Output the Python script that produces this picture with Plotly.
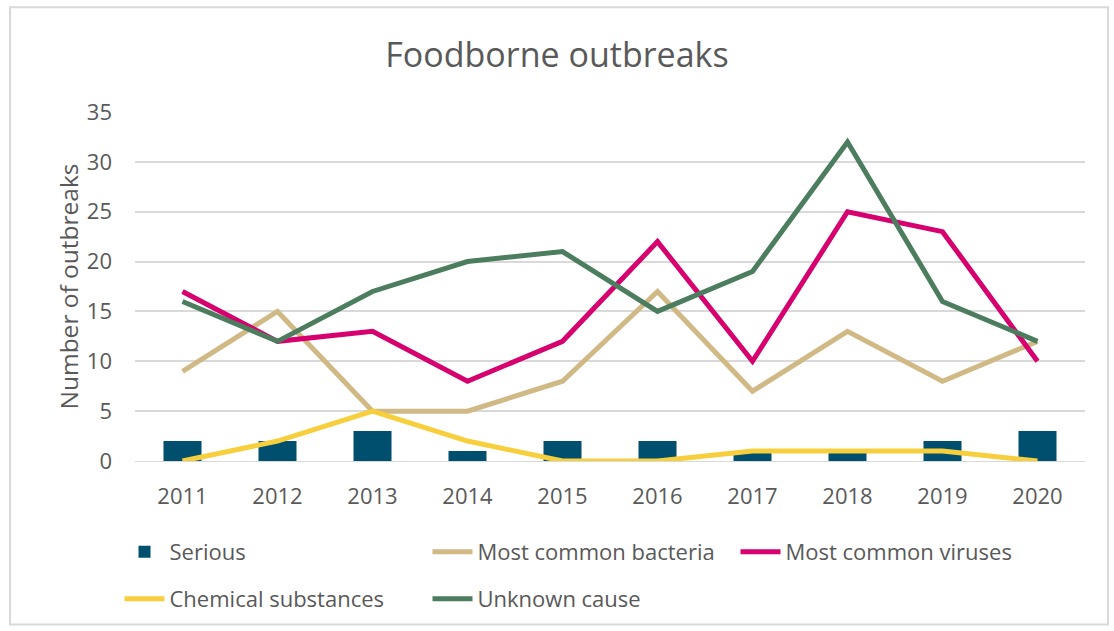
import plotly.graph_objects as go

years = ["2011", "2012", "2013", "2014", "2015", "2016", "2017", "2018", "2019", "2020"]
serious = [2, 2, 3, 1, 2, 2, 1, 1, 2, 3]
bacteria = [9, 15, 5, 5, 8, 17, 7, 13, 8, 12]
viruses = [17, 12, 13, 8, 12, 22, 10, 25, 23, 10]
chemical = [0, 2, 5, 2, 0, 0, 1, 1, 1, 0]
unknown = [16, 12, 17, 20, 21, 15, 19, 32, 16, 12]

FONT = "Open Sans, DejaVu Sans, sans-serif"
GRAY = "#595959"
LW = 5

fig = go.Figure()
fig.add_trace(go.Bar(x=years, y=serious, name="Serious", marker_color="#004F6E",
                     width=0.4, marker_line_width=0, legend="legend"))
fig.add_trace(go.Scatter(x=years, y=bacteria, name="Most common bacteria", mode="lines",
                         line=dict(color="#D1B986", width=LW), legend="legend"))
fig.add_trace(go.Scatter(x=years, y=viruses, name="Most common viruses", mode="lines",
                         line=dict(color="#D6006F", width=LW), legend="legend"))
fig.add_trace(go.Scatter(x=years, y=chemical, name="Chemical substances", mode="lines",
                         line=dict(color="#F7CF3D", width=LW), legend="legend2"))
fig.add_trace(go.Scatter(x=years, y=unknown, name="Unknown cause", mode="lines",
                         line=dict(color="#4B7D5E", width=LW), legend="legend2"))

W, H = 1114, 631
L, R, T, B = 135, 29, 112, 169
pw, ph = W - L - R, H - T - B

legend_style = dict(orientation="h", x=-0.0163, xanchor="left", yanchor="middle",
                    entrywidth=253, entrywidthmode="pixels", traceorder="normal",
                    font=dict(size=22, color=GRAY, family=FONT), itemwidth=40,
                    bgcolor="rgba(0,0,0,0)")

fig.update_layout(
    width=W, height=H,
    margin=dict(l=L, r=R, t=T, b=B),
    paper_bgcolor="white", plot_bgcolor="white",
    font=dict(family=FONT, color=GRAY, size=22),
    title=dict(text="Foodborne outbreaks", x=0.5, xanchor="center",
               y=1 - 55 / H, yanchor="middle",
               font=dict(size=34, color=GRAY, family=FONT)),
    xaxis=dict(type="category", showgrid=False, ticks="", showline=True,
               linecolor="#D9D9D9", linewidth=1, ticklabelstandoff=16,
               tickfont=dict(size=22, color=GRAY)),
    yaxis=dict(range=[0, 35], dtick=5, showgrid=True, gridcolor="#D9D9D9", gridwidth=2,
               zeroline=False, ticks="", ticklabelstandoff=22,
               tickfont=dict(size=22, color=GRAY),
               title=dict(text="Number of outbreaks", standoff=1,
                          font=dict(size=24.5, color=GRAY))),
    legend=dict(legend_style, y=-(552 - (H - B)) / ph),
    legend2=dict(legend_style, y=-(599 - (H - B)) / ph),
    bargap=0.6,
    showlegend=True,
)

# outer frame around the chart
fig.add_shape(type="rect", xref="paper", yref="paper",
              x0=(10 - L) / pw, x1=(1108 - L) / pw,
              y0=-(626 - (H - B)) / ph, y1=1 + (T - 7) / ph,
              line=dict(color="#D9D9D9", width=2), layer="below")

fig.write_html("out.html")
